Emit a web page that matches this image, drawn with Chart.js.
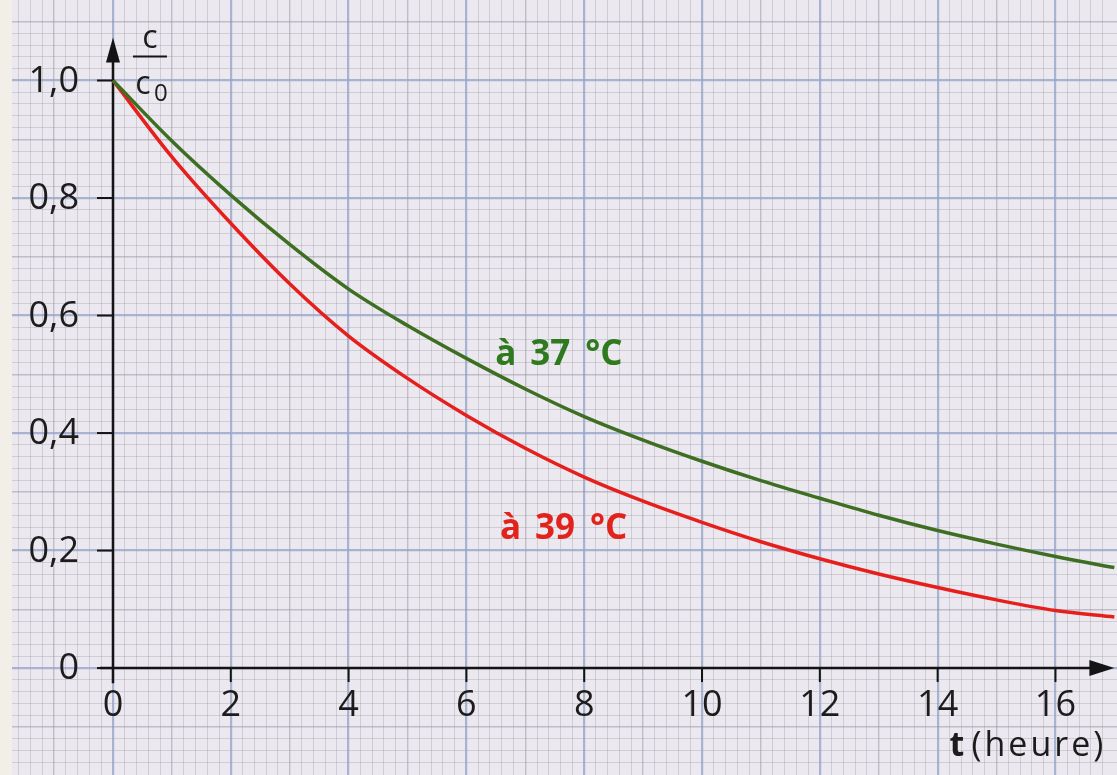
<!DOCTYPE html>
<html>
<head>
<meta charset="utf-8">
<title>c/c0 en fonction du temps</title>
<script src="https://cdn.jsdelivr.net/npm/chart.js@4.4.1/dist/chart.umd.min.js"></script>
<style>
  html, body { margin: 0; padding: 0; background: #ebe9ef; }
  #wrap { width: 1117px; height: 775px; }
</style>
</head>
<body>
<div id="wrap"><canvas id="decay" width="1117" height="775"></canvas></div>
<script>
// values (t in hours, c/c0)
let hours = [0, 1, 2, 3, 4, 5, 6, 7, 8, 9, 10, 11, 12, 13, 14, 15, 16, 17];
let at37 = [1.0, 0.897, 0.805, 0.721, 0.645, 0.583, 0.527, 0.475, 0.428, 0.388, 0.352, 0.319, 0.289, 0.26, 0.234, 0.211, 0.19, 0.171];
let at39 = [1.0, 0.87, 0.757, 0.654, 0.565, 0.493, 0.43, 0.374, 0.325, 0.284, 0.248, 0.215, 0.186, 0.16, 0.137, 0.116, 0.098, 0.087];

let xTicks = [0, 2, 4, 6, 8, 10, 12, 14, 16];
let yTicks = [0, 0.2, 0.4, 0.6, 0.8, 1.0];
let yTickLabels = ['0', '0,2', '0,4', '0,6', '0,8', '1,0'];
let seriesNames = ['à 37 °C', 'à 39 °C'];

const greenLine = '#3e6e22';
const redLine = '#e61f1c';
const labelFont = '"Open Sans", "DejaVu Sans", sans-serif';

// graph paper line style: minor / medium / major
function paperColor(v, step) {
    let k = Math.round(v / step);
    if (Math.abs(v - k * step) > step / 1000) return 'rgba(0,0,0,0)';
    if (k % 10 === 0) return 'rgba(150,165,200,0.8)';
    if (k % 5 === 0) return 'rgba(150,145,160,0.5)';
    return 'rgba(165,160,170,0.4)';
}
function paperWidth(v, step) {
    let k = Math.round(v / step);
    if (k % 10 === 0) return 2.2;
    if (k % 5 === 0) return 1.4;
    return 1;
}

// draws a label in three pieces, the way the printed one is spaced
function spacedLabel(ctx, text, left, mid) {
    let parts = text.split(' ');   // 'à', '37', '°C'
    ctx.fillText(parts[0], left, mid);
    ctx.fillText(parts[1], left + 35, mid);
    ctx.fillText(parts[2], left + 90, mid);
}

const paperAxes = {
    id: 'paperAxes',
    beforeDraw(chart) {
        const ctx = chart.ctx;
        ctx.save();
        ctx.fillStyle = '#ebe9ef';
        ctx.fillRect(0, 0, chart.width, chart.height);
        ctx.restore();
    },
    beforeDatasetsDraw(chart) {
        const ctx = chart.ctx;
        const x = chart.scales.x, y = chart.scales.y;
        const x0 = x.getPixelForValue(0), y0 = y.getPixelForValue(0);
        ctx.save();
        // page margin on the left
        ctx.fillStyle = '#f1efe8';
        ctx.fillRect(0, 0, 12, chart.height);

        ctx.strokeStyle = '#141414';
        ctx.fillStyle = '#141414';
        ctx.lineWidth = 2.5;

        // x axis + arrow
        const xStart = x.getPixelForValue(-0.22), xTip = x.getPixelForValue(17.0);
        ctx.beginPath();
        ctx.moveTo(xStart, y0);
        ctx.lineTo(xTip - 20, y0);
        ctx.stroke();
        ctx.beginPath();
        ctx.moveTo(xTip, y0);
        ctx.lineTo(xTip - 25, y0 - 8);
        ctx.lineTo(xTip - 25, y0 + 8);
        ctx.closePath();
        ctx.fill();

        // y axis + arrow
        const yBottom = y.getPixelForValue(-0.026), yTip = y.getPixelForValue(1.073);
        ctx.beginPath();
        ctx.moveTo(x0, yBottom);
        ctx.lineTo(x0, yTip + 20);
        ctx.stroke();
        ctx.beginPath();
        ctx.moveTo(x0, yTip);
        ctx.lineTo(x0 - 7, yTip + 25);
        ctx.lineTo(x0 + 7, yTip + 25);
        ctx.closePath();
        ctx.fill();

        // ticks and tick labels
        ctx.lineWidth = 2;
        ctx.fillStyle = '#1c1c1c';
        ctx.font = '36px ' + labelFont;
        ctx.textAlign = 'center';
        ctx.textBaseline = 'middle';
        xTicks.forEach(t => {
            let px = x.getPixelForValue(t);
            ctx.beginPath();
            ctx.moveTo(px, y0);
            ctx.lineTo(px, y0 + 14);
            ctx.stroke();
            ctx.fillText(String(t), px, y0 + 38);
        });
        ctx.textAlign = 'right';
        yTicks.forEach((v, i) => {
            let py = y.getPixelForValue(v);
            ctx.beginPath();
            ctx.moveTo(x0 - 16, py);
            ctx.lineTo(x0, py);
            ctx.stroke();
            ctx.fillText(yTickLabels[i], x0 - 34, py + 1);
        });

        // y title: c / c0
        ctx.textAlign = 'center';
        ctx.font = '32px ' + labelFont;
        ctx.fillText('c', x0 + 37, y.getPixelForValue(1.07));
        ctx.lineWidth = 2;
        ctx.beginPath();
        ctx.moveTo(x0 + 20, y.getPixelForValue(1.041));
        ctx.lineTo(x0 + 54, y.getPixelForValue(1.041));
        ctx.stroke();
        ctx.fillText('c', x0 + 30, y.getPixelForValue(0.993));
        ctx.font = '24px ' + labelFont;
        ctx.fillText('0', x0 + 48, y.getPixelForValue(0.976));

        // x title: t (heure)
        ctx.textAlign = 'left';
        ctx.textBaseline = 'alphabetic';
        let tx = x.getPixelForValue(14.2), ty = y.getPixelForValue(-0.15);
        ctx.font = 'bold 34px ' + labelFont;
        ctx.fillText('t', tx, ty);
        ctx.font = '34px ' + labelFont;
        ctx.letterSpacing = '3px';
        ctx.fillText('(heure)', tx + 22, ty);
        ctx.restore();
    },
    afterDatasetsDraw(chart) {
        const ctx = chart.ctx;
        const x = chart.scales.x, y = chart.scales.y;
        ctx.save();
        ctx.font = 'bold 35px ' + labelFont;
        ctx.textAlign = 'left';
        ctx.textBaseline = 'middle';
        ctx.fillStyle = '#2f7a1f';
        spacedLabel(ctx, seriesNames[0], x.getPixelForValue(6.49), y.getPixelForValue(0.533));
        ctx.fillStyle = '#e4221c';
        spacedLabel(ctx, seriesNames[1], x.getPixelForValue(6.57), y.getPixelForValue(0.237));
        ctx.restore();
    }
};

let decayChart = document.getElementById('decay').getContext('2d');

new Chart(decayChart,
{
    type: 'line',
    data:
    {
        datasets:
        [{
            label: seriesNames[0],
            data: hours.map((t, i) => ({ x: t, y: at37[i] })),
            borderColor: greenLine,
            borderWidth: 3.5,
            pointRadius: 0,
            cubicInterpolationMode: 'monotone',
            fill: false
        },
        {
            label: seriesNames[1],
            data: hours.map((t, i) => ({ x: t, y: at39[i] })),
            borderColor: redLine,
            borderWidth: 3.5,
            pointRadius: 0,
            cubicInterpolationMode: 'monotone',
            fill: false
        }]
    },
    options:
    {
        responsive: false,
        animation: false,
        devicePixelRatio: 1,
        layout: { padding: 0 },
        plugins:
        {
            legend: { display: false },
            tooltip: { enabled: false }
        },
        scales:
        {
            x:
            {
                type: 'linear',
                min: -1.918,
                max: 17.045,
                afterFit: s => { s.height = 0; },
                border: { display: false },
                ticks: { display: false, stepSize: 0.2 },
                grid:
                {
                    drawTicks: false,
                    color: c => paperColor(c.tick.value, 0.2),
                    lineWidth: c => paperWidth(c.tick.value, 0.2)
                }
            },
            y:
            {
                type: 'linear',
                min: -0.182,
                max: 1.137,
                afterFit: s => { s.width = 0; },
                border: { display: false },
                ticks: { display: false, stepSize: 0.02 },
                grid:
                {
                    drawTicks: false,
                    color: c => paperColor(c.tick.value, 0.02),
                    lineWidth: c => paperWidth(c.tick.value, 0.02)
                }
            }
        }
    },
    plugins: [paperAxes]
});
</script>
</body>
</html>
